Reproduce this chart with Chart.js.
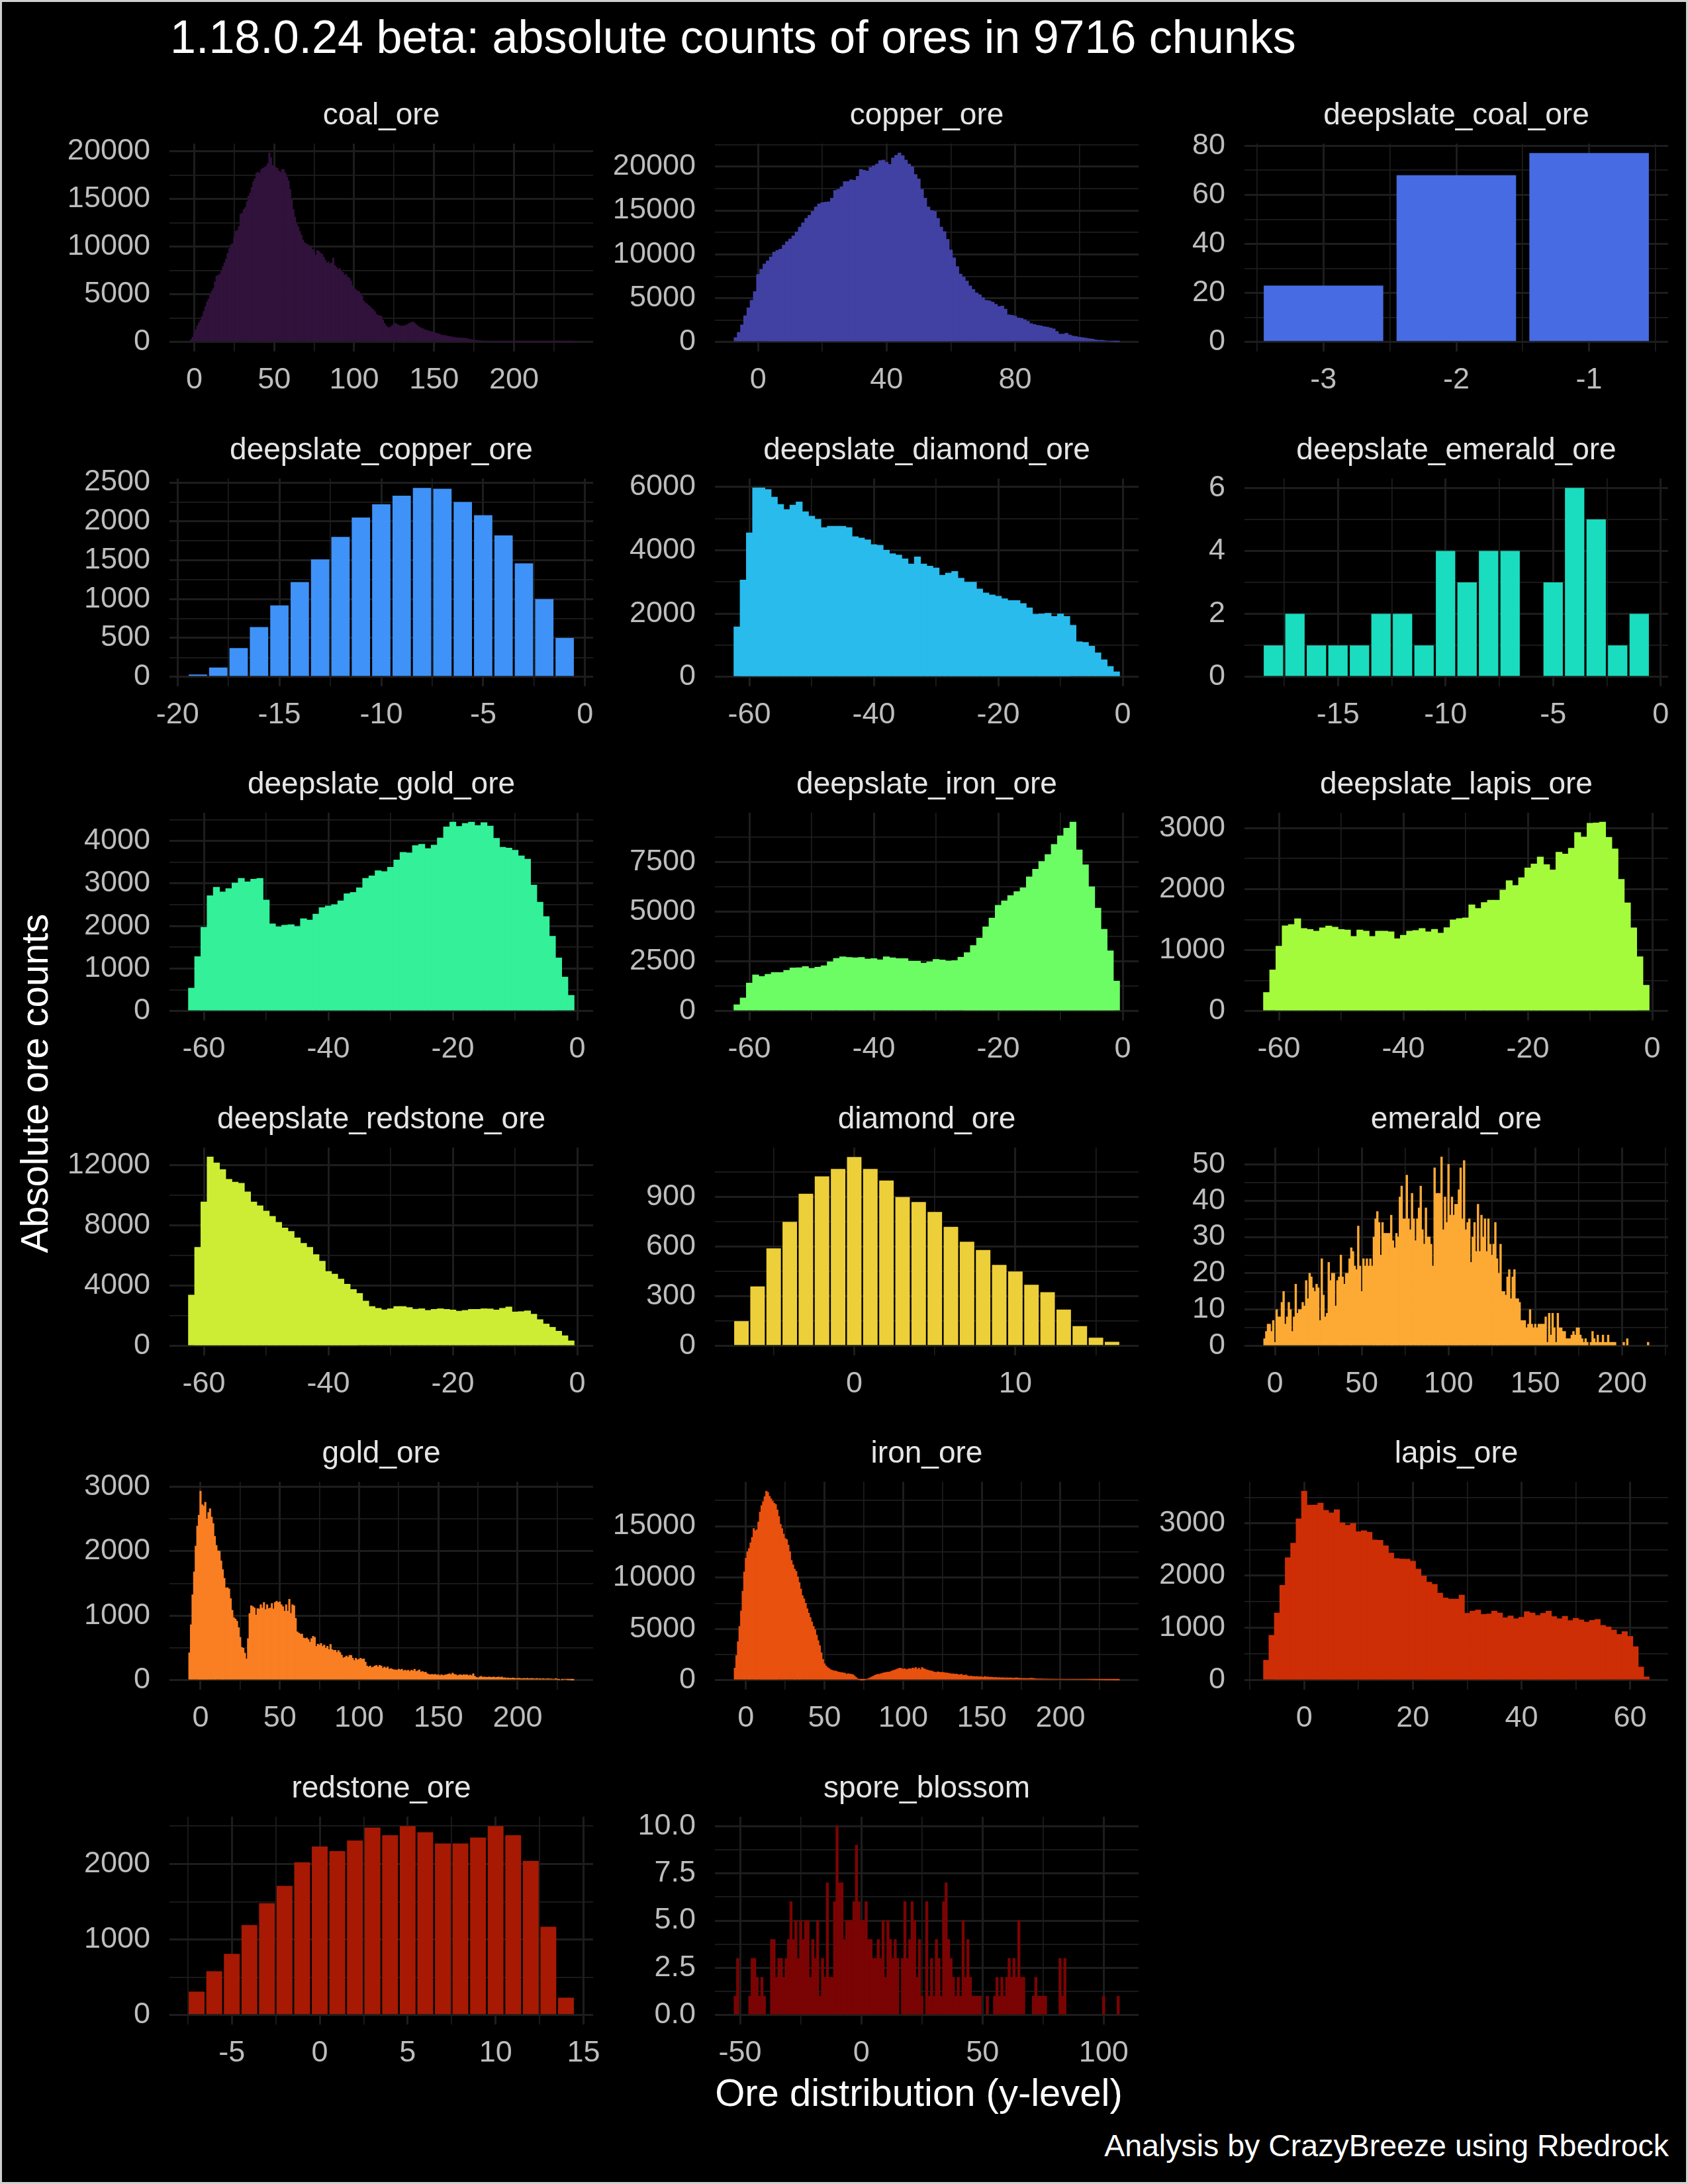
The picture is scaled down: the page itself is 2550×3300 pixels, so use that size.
<!DOCTYPE html>
<html>
<head>
<meta charset="utf-8">
<script src="https://cdn.jsdelivr.net/npm/chart.js@4.4.0/dist/chart.umd.min.js"></script>
<style>
html, body { margin: 0; padding: 0; background: #000; }
#page { position: relative; width: 2550px; height: 3300px; background: #000; overflow: hidden;
        font-family: "Liberation Sans", Arial, Helvetica, sans-serif; }
#frame { position: absolute; left: 0; top: 0; width: 2550px; height: 3300px; box-sizing: border-box;
         border: 3px solid #cfcfcf; pointer-events: none; }
.txt { position: absolute; white-space: nowrap; line-height: 1; }
.strip { position: absolute; white-space: nowrap; line-height: 1; font-size: 46px; color: #e5e5e5;
         transform: translateX(-50%); }
canvas { position: absolute; }
</style>
</head>
<body>
<div id="page">
  <div class="txt" id="title" style="left:257px; top:21px; font-size:70px; color:#ffffff;">1.18.0.24 beta: absolute counts of ores in 9716 chunks</div>
  <div class="txt" id="ytitle" style="left:52px; top:1637px; font-size:58px; color:#ffffff; transform: translate(-50%,-50%) rotate(-90deg);">Absolute ore counts</div>
  <div class="txt" id="xtitle" style="left:1388px; top:3133px; font-size:58px; color:#ffffff; transform: translateX(-50%);">Ore distribution (y-level)</div>
  <div class="txt" id="caption" style="right:29px; top:3219px; font-size:46.5px; color:#ffffff;">Analysis by CrazyBreeze using Rbedrock</div>
  <div id="frame"></div>
</div>
<script>
// ---------------- DATA ----------------
const categories = ['coal_ore','copper_ore','deepslate_coal_ore','deepslate_copper_ore','deepslate_diamond_ore',
  'deepslate_emerald_ore','deepslate_gold_ore','deepslate_iron_ore','deepslate_lapis_ore','deepslate_redstone_ore',
  'diamond_ore','emerald_ore','gold_ore','iron_ore','lapis_ore','redstone_ore','spore_blossom'];

// first y-level of each series (values are consecutive y-levels from there)
const firstLevel = [-3, -7, -3, -19, -62, -18, -62, -62, -62, -62, -7, -6, -7, -7, -7, -7, -52];

const coal_ore = [
  100,250,500,900,1300,1700,2000,2300,2700,3200,
  3700,4200,4500,4900,5300,5600,6300,6900,7000,7100,
  7400,7900,8300,8700,9300,9800,10200,10300,11000,11600,
  11700,12100,13400,13500,13900,14100,14700,15300,15600,16200,
  16800,17100,17700,17800,17700,18100,18200,18300,18400,18700,
  19800,19300,18500,18400,18300,18200,17900,17800,18100,18100,
  17700,17300,16900,16000,14900,13900,13100,12400,12100,11600,
  11200,10700,10400,10300,10200,10100,9900,9700,9400,9100,
  9600,9500,9300,9200,8900,8600,8300,8400,8200,8300,
  8800,8000,7800,7600,7700,7400,7300,7000,7100,6800,
  6700,6400,5900,5600,5500,5350,5300,5100,4800,4300,
  4100,4000,3850,3700,3500,3400,3200,2900,2800,2750,
  2700,2300,1950,1700,1550,1500,1600,1750,1900,1950,
  1850,1750,1700,1650,1700,1750,1800,1900,2000,2050,
  2100,1950,1800,1650,1550,1450,1400,1300,1250,1200,
  1150,1100,1050,1000,950,900,850,780,720,700,
  680,640,600,570,540,520,480,450,430,440,
  420,410,400,380,340,300,260,230,210,190,
  170,150,140,120,110,110,100,95,90,85,
  80,75,70,68,65,62,60,58,55,52,
  50,48,46,45,44,43,40,41,38,38,
  35,36,33,34,31,30,31,28,27,28,
  25,24,25,22,21,22,19,18,19,16,
  15,16,13,12,13,11,10,9,9,8,
  6];

const copper_ore = [
  500,1100,1950,3000,3900,4750,5750,7700,8300,8900,
  9250,9700,10250,10450,10600,11050,11450,11750,12100,12550,
  13100,13600,14100,14450,14900,15400,15750,15900,15950,16000,
  16400,17300,17400,17700,18300,18300,18500,18450,18900,19700,
  19600,19500,19900,20100,20300,20700,20750,20500,20250,21000,
  21300,21550,21250,20750,20300,20000,19100,18600,17400,16400,
  15400,15000,14900,14100,13100,12600,11700,10500,9600,8600,
  7750,7400,6950,6400,6000,5600,5400,5050,4750,4700,
  4550,4300,4050,4100,3750,3100,3050,2950,2750,2700,
  2550,2350,2100,2000,1900,1850,1750,1700,1600,1500,
  1200,900,900,1000,800,680,620,550,500,450,
  380,330,250,200,200,150,120,80,50,40];

const deepslate_coal_ore = [23, 68, 77];

const deepslate_copper_ore = [30,120,370,640,920,1220,1510,1800,2050,2220,2330,2430,2420,2250,2080,1820,1460,1000,500];

const deepslate_diamond_ore = [
  1580,3060,4550,5970,5970,5920,5680,5450,5290,5430,
  5530,5220,5080,4980,4720,4760,4760,4760,4720,4430,
  4390,4330,4180,4160,4000,3890,3850,3730,3570,3790,
  3570,3500,3440,3210,3280,3330,3120,2990,2990,2780,
  2650,2590,2550,2470,2410,2410,2320,2180,1980,1990,
  2010,1910,1990,1910,1630,1110,1090,970,760,540,
  330,160];

const deepslate_emerald_ore = [1,2,1,1,1,2,2,1,4,3,4,4,0,3,6,5,1,2];

const deepslate_gold_ore = [
  540,1280,1970,2710,2910,2800,2880,3010,3120,3040,
  3100,3120,2610,2050,1980,2020,2030,1990,2170,2140,
  2280,2430,2470,2500,2590,2760,2790,2900,3120,3180,
  3300,3280,3380,3550,3730,3720,3890,3920,3820,3900,
  4070,4330,4440,4340,4410,4440,4360,4430,4350,4060,
  3850,3830,3780,3650,3570,2960,2560,2220,1760,1250,
  800,370];

const deepslate_iron_ore = [
  320,660,1410,1820,1740,1850,1940,1940,2050,2170,
  2180,2240,2150,2210,2280,2480,2650,2730,2700,2680,
  2700,2620,2640,2580,2730,2680,2640,2640,2510,2510,
  2410,2480,2600,2570,2520,2540,2710,2940,3300,3670,
  4240,4680,5320,5540,5810,6010,6200,6750,7130,7520,
  7870,8380,8810,9200,9500,8110,7360,6250,5180,4110,
  3030,1510];

const deepslate_lapis_ore = [
  305,675,1064,1398,1419,1513,1355,1337,1311,1365,
  1394,1376,1337,1329,1225,1329,1311,1225,1311,1311,
  1301,1186,1243,1311,1322,1355,1301,1340,1279,1369,
  1495,1516,1527,1743,1682,1779,1818,1818,1983,2138,
  2059,2188,2346,2411,2526,2400,2314,2605,2576,2670,
  2928,2853,3079,3086,3097,2849,2659,2159,1775,1365,
  891,424];

const deepslate_redstone_ore = [
  3380,6550,9560,12540,12150,11710,11060,10880,10800,10230,
  9560,9310,8950,8600,8210,7830,7600,7170,6810,6550,
  6070,5630,4950,4770,4440,4100,3750,3490,2980,2620,
  2500,2400,2470,2620,2620,2550,2440,2470,2360,2430,
  2470,2430,2390,2310,2360,2430,2430,2470,2460,2390,
  2500,2590,2260,2280,2330,2110,1750,1460,1240,980,
  680,340];

const diamond_ore = [150,360,590,750,920,1025,1070,1142,1070,1000,900,870,810,720,630,580,490,450,370,325,220,120,50,25];

const emerald_ore = [
  2,4,6,6,4,7,1,10,8,8,
  12,15,6,8,12,10,4,8,17,9,
  10,10,12,11,18,13,20,19,16,15,
  17,16,7,24,14,8,9,23,18,20,
  20,11,18,19,25,19,17,20,20,24,
  27,26,22,21,33,22,15,24,22,24,
  22,24,22,30,35,37,34,25,34,31,
  31,31,31,36,29,27,31,30,41,44,
  35,35,47,35,32,42,35,29,35,38,
  44,32,28,38,30,30,28,22,49,42,
  42,42,52,32,41,34,50,36,41,36,
  39,39,43,49,35,51,32,34,35,23,
  30,34,26,39,26,36,30,35,26,35,
  28,25,28,34,24,20,28,15,15,14,
  19,21,13,19,21,13,13,12,7,7,
  7,5,6,10,6,5,6,5,6,6,
  6,6,8,1,9,3,9,5,1,9,
  5,5,4,4,2,2,2,3,4,3,
  5,5,3,2,1,2,1,0,1,4,
  2,1,3,1,1,3,1,1,3,1,
  1,1,1,0,0,0,0,1,0,2,
  0,0,0,0,0,0,0,0,0,0,
  0,1];

const gold_ore = [
  425,860,1325,1680,2080,2390,2560,2930,2720,2700,
  2760,2500,2600,2660,2530,2430,2230,2090,2005,2000,
  1850,1715,1580,1430,1435,1415,1265,1085,970,950,
  915,815,665,510,495,420,330,645,1035,1155,
  1140,1120,1010,1110,1105,1170,1120,1205,1095,1170,
  1110,1120,1190,1105,1205,1225,1205,1215,1170,1140,
  1070,1170,1070,1255,1035,1170,1155,960,750,730,
  715,715,655,645,655,630,590,645,680,665,
  525,560,545,570,525,545,495,525,475,555,
  475,460,465,430,460,430,390,345,355,375,
  355,385,385,340,305,340,315,325,340,325,
  330,280,220,205,220,195,205,220,230,205,
  230,220,185,205,185,205,170,180,170,160,
  160,155,170,160,170,145,155,145,155,135,
  155,145,170,135,145,160,125,135,120,125,
  100,90,85,90,85,90,80,85,70,85,
  70,80,85,90,100,85,110,90,85,70,
  80,85,75,85,80,85,70,80,70,100,
  60,45,35,50,60,45,50,45,45,50,
  45,45,50,40,45,50,40,50,35,38,
  30,35,30,30,35,30,25,28,30,25,
  24,28,24,30,24,25,28,24,20,27,
  20,24,20,24,20,20,24,20,20,17,
  17,24,10,7,0,7,14,14,10,7,
  7,3,3];

const iron_ore = [
  1180,2400,3750,5240,6740,8670,10550,11880,12520,12840,
  13380,13910,14770,14550,14660,15410,16370,17010,17400,17870,
  18400,18300,17910,17660,17440,17230,17120,16590,15940,15190,
  14770,14230,13800,13700,13160,12520,11660,11240,10810,10590,
  10060,9520,8880,8240,7920,7490,6960,6530,6100,5670,
  5240,4920,4390,3850,3360,2680,2030,1600,1390,1220,
  1130,1010,960,900,900,835,790,750,750,705,
  685,580,640,600,580,535,430,280,150,65,
  20,5,20,65,105,170,235,320,385,470,
  535,580,580,640,685,730,750,790,790,835,
  900,960,1005,1070,1135,1180,1135,1070,1110,1030,
  1070,1135,1090,1180,1135,1240,1070,1180,1030,1240,
  1135,1070,1005,960,920,900,835,790,750,815,
  790,750,770,750,705,705,665,640,600,620,
  580,600,535,515,580,490,470,515,430,365,
  405,365,365,340,365,320,340,320,280,365,
  300,320,280,300,280,255,280,235,255,235,
  235,235,215,235,215,235,215,195,215,235,
  215,195,170,170,175,170,165,170,195,190,
  170,150,130,128,128,128,120,115,110,115,
  108,105,110,100,104,98,100,95,96,92,
  95,90,92,88,90,85,88,84,86,82,
  80,82,78,80,76,70,65,62,58,55,
  52,50,48,46,44,42,40,38,36,34,
  32,30,28,26,24];

const lapis_ore = [
  382,860,1288,1817,2346,2623,3088,3617,3353,3353,
  3390,3252,3202,3265,3013,2967,3000,2841,2862,2832,
  2685,2677,2572,2434,2329,2321,2316,2278,2127,1993,
  1876,1834,1666,1574,1553,1553,1628,1280,1322,1343,
  1259,1267,1322,1288,1196,1229,1175,1204,1313,1288,
  1238,1280,1322,1217,1175,1225,1141,1187,1154,1112,
  1145,1162,1049,1020,961,877,931,839,642,252,
  63];

const redstone_ore = [310,580,810,1190,1480,1710,2020,2230,2170,2310,2480,2380,2500,2420,2270,2270,2350,2500,2380,2040,1170,230];

const spore_blossom = [
  1,3,0,0,0,0,1,3,3,2,
  1,2,1,0,0,4,4,2,3,3,
  2,3,4,6,4,5,3,5,4,5,
  5,2,4,3,5,1,3,2,7,2,
  2,6,10,7,7,4,5,5,5,6,
  9,6,5,5,6,4,4,3,3,4,
  3,5,2,5,4,3,4,3,0,3,
  6,3,4,6,5,2,4,1,0,6,
  1,3,1,4,3,1,6,7,4,3,
  2,1,2,1,5,2,4,2,1,1,
  1,1,0,0,1,0,0,1,2,1,
  2,1,2,3,2,3,2,5,2,2,
  0,0,0,1,2,1,1,1,1,0,
  0,0,0,0,3,1,3,0,0,0,
  0,0,0,0,0,0,0,0,0,0,
  0,0,1,0,0,0,0,0,1];

const series = [coal_ore, copper_ore, deepslate_coal_ore, deepslate_copper_ore, deepslate_diamond_ore,
  deepslate_emerald_ore, deepslate_gold_ore, deepslate_iron_ore, deepslate_lapis_ore, deepslate_redstone_ore,
  diamond_ore, emerald_ore, gold_ore, iron_ore, lapis_ore, redstone_ore, spore_blossom];

// tick labels (major breaks) of every panel
const xTickLabels = [
  [0,50,100,150,200], [0,40,80], [-3,-2,-1], [-20,-15,-10,-5,0], [-60,-40,-20,0],
  [-15,-10,-5,0], [-60,-40,-20,0], [-60,-40,-20,0], [-60,-40,-20,0], [-60,-40,-20,0],
  [0,10], [0,50,100,150,200], [0,50,100,150,200], [0,50,100,150,200], [0,20,40,60],
  [-5,0,5,10,15], [-50,0,50,100]];
const yTickLabels = [
  [0,5000,10000,15000,20000], [0,5000,10000,15000,20000], [0,20,40,60,80], [0,500,1000,1500,2000,2500],
  [0,2000,4000,6000], [0,2,4,6], [0,1000,2000,3000,4000], [0,2500,5000,7500], [0,1000,2000,3000],
  [0,4000,8000,12000], [0,300,600,900], [0,10,20,30,40,50], [0,1000,2000,3000], [0,5000,10000,15000],
  [0,1000,2000,3000], [0,1000,2000], [0,2.5,5,7.5,10]];

// ---------------- STYLE ----------------
const fillColors = ['#30123B','#4141A3','#466BE3','#3F92F8','#29BBEC','#1ADDBF','#33F099','#6CFD64',
  '#A4FB3C','#CDED35','#EDCF39','#FDAA34','#FA7F23','#E9510F','#CE2E05','#A71903','#7A0403'];
const barShare = [1,1,0.9,0.9,1,0.9,1,1,1,1,0.9,1,1,1,1,0.9,1];

const PANEL_W = 640, PANEL_H = 314;
const colLeft = [256, 1080, 1880];
const rowTop0 = 217, rowStep = 505.5;
const YW = 200, PR = 60, PT = 40, XH = 100;
const GRID = '#1d1d1d';
const TICK_COLOR = '#bdbdbd';
const FONT = '"Liberation Sans", Arial, Helvetica, sans-serif';
const TICK_SIZE = 45;

function withMinors(majors, lo, hi) {
  const step = majors[1] - majors[0];
  const out = majors.filter(v => v >= lo && v <= hi).map(v => ({ value: v, mj: true }));
  [majors[0] - step / 2, ...majors.map(v => v + step / 2)].forEach(v => {
    if (v >= lo && v <= hi) out.push({ value: v, mj: false });
  });
  out.sort((a, b) => a.value - b.value);
  return out;
}

const page = document.getElementById('page');
const frame = document.getElementById('frame');

series.forEach((vals, i) => {
  const row = Math.floor(i / 3), col = i % 3;
  const left = colLeft[col], top = Math.round(rowTop0 + row * rowStep);
  const W = YW + PANEL_W + PR, H = PT + PANEL_H + XH;
  const cv = document.createElement('canvas');
  cv.width = W; cv.height = H;
  cv.style.left = (left - YW) + 'px';
  cv.style.top = (top - PT) + 'px';
  cv.style.width = W + 'px';
  cv.style.height = H + 'px';
  page.insertBefore(cv, frame);

  const st = document.createElement('div');
  st.className = 'strip';
  st.textContent = categories[i];
  st.style.left = (left + PANEL_W / 2) + 'px';
  st.style.top = (top - 68) + 'px';
  page.insertBefore(st, frame);

  const x0 = firstLevel[i];
  const pts = vals.map((v, k) => ({ x: x0 + k, y: v === 0 ? null : v }));
  const lo0 = x0 - 0.45, hi0 = x0 + vals.length - 1 + 0.45;
  const xr = hi0 - lo0;
  const xmin = lo0 - 0.05 * xr, xmax = hi0 + 0.05 * xr;
  const vmax = Math.max(...vals);
  const ymin = -0.05 * vmax, ymax = 1.05 * vmax;
  const xt = withMinors(xTickLabels[i], xmin, xmax);
  const yt = withMinors(yTickLabels[i], ymin, ymax);
  const yDec = yTickLabels[i].some(v => !Number.isInteger(v)) ? 1 : 0;
  const share = barShare[i];
  const barPx = share * PANEL_W / (xmax - xmin);

  const gridOpts = {
    color: GRID,
    lineWidth: ctx => (ctx.tick && ctx.tick.mj) ? 3 : 1.7,
    drawTicks: false,
    offset: false
  };

  new Chart(cv, {
    type: 'bar',
    data: {
      datasets: [{
        data: pts,
        backgroundColor: fillColors[i],
        borderWidth: 0,
        barThickness: barPx,
        inflateAmount: share < 1 ? 0 : 0.4
      }]
    },
    options: {
      responsive: false,
      maintainAspectRatio: false,
      animation: false,
      devicePixelRatio: 1,
      layout: { autoPadding: false, padding: { left: 0, right: PR, top: PT, bottom: 0 } },
      plugins: { legend: { display: false }, tooltip: { enabled: false }, title: { display: false } },
      scales: {
        x: {
          type: 'linear', min: xmin, max: xmax, offset: false,
          afterBuildTicks: s => { s.ticks = xt.map(t => ({ value: t.value, mj: t.mj })); },
          afterFit: s => { s.height = XH; s.paddingLeft = 0; s.paddingRight = 0; s.paddingTop = 0; s.paddingBottom = 0; },
          grid: gridOpts,
          border: { display: false },
          ticks: {
            autoSkip: false, maxRotation: 0, minRotation: 0, padding: 17,
            color: TICK_COLOR, font: { family: FONT, size: TICK_SIZE },
            callback: (v, idx, ticks) => ticks[idx].mj ? String(v) : ''
          }
        },
        y: {
          type: 'linear', min: ymin, max: ymax,
          afterBuildTicks: s => { s.ticks = yt.map(t => ({ value: t.value, mj: t.mj })); },
          afterFit: s => { s.width = YW; s.paddingTop = 0; s.paddingBottom = 0; s.paddingLeft = 0; s.paddingRight = 0; },
          grid: gridOpts,
          border: { display: false },
          ticks: {
            autoSkip: false, padding: 29,
            color: TICK_COLOR, font: { family: FONT, size: TICK_SIZE },
            callback: (v, idx, ticks) => ticks[idx].mj ? Number(v).toFixed(yDec) : ''
          }
        }
      }
    }
  });
});
</script>
</body>
</html>
